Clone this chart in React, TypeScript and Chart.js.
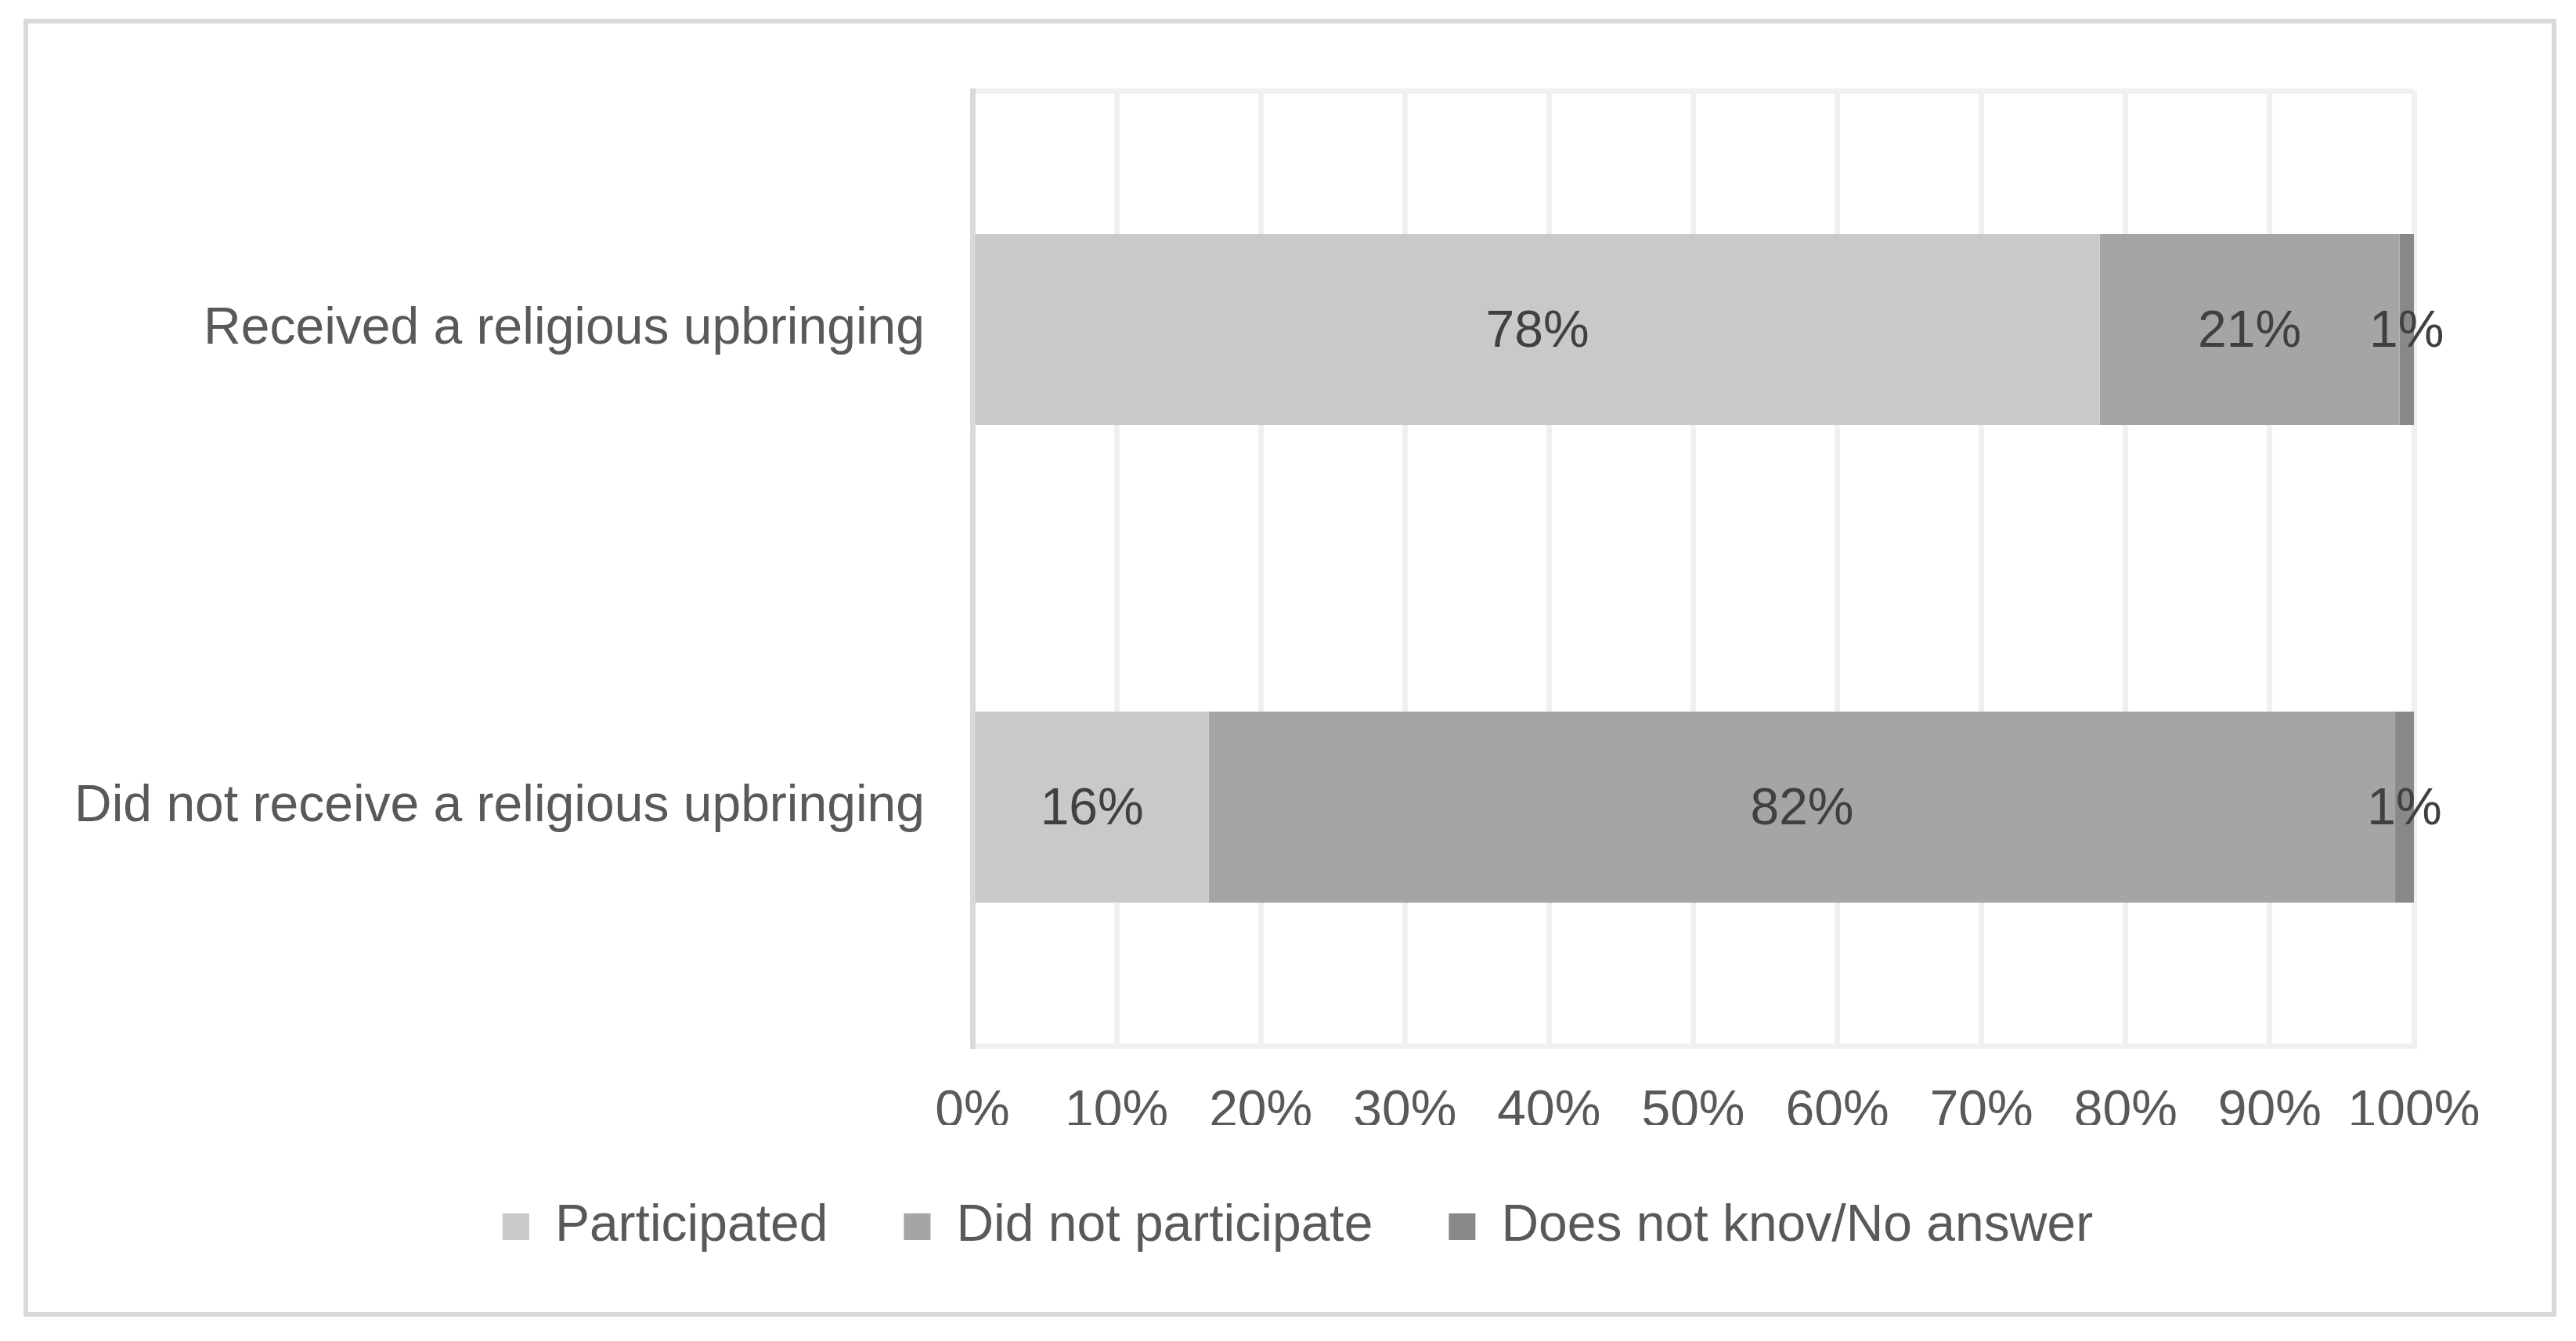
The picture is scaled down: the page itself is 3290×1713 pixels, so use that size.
import React, { useEffect, useRef } from 'react';
import { Chart, registerables } from 'chart.js';

Chart.register(...registerables);

const categories = ['Received a religious upbringing', 'Did not receive a religious upbringing'];
const seriesNames = ['Participated', 'Did not participate', 'Does not knov/No answer'];
const participated = [78.2, 16.4];
const didNotParticipate = [20.8, 82.3];
const doesNotKnow = [1.0, 1.3];
const seriesColors = ['#c9c9c9', '#a5a5a5', '#888888'];
const xMin = 0;
const xMax = 100;
const xStep = 10;

const FONT = '"Liberation Sans", Arial, Helvetica, sans-serif';
const CANVAS_W = 3223;
const CANVAS_H = 1646;

const segmentLabels = {
  id: 'segmentLabels',
  afterDatasetsDraw(chart: any) {
    const { ctx } = chart;
    ctx.save();
    ctx.font = `66px ${FONT}`;
    ctx.fillStyle = '#404040';
    ctx.textAlign = 'center';
    ctx.textBaseline = 'middle';
    chart.data.datasets.forEach((ds: any, di: number) => {
      const meta = chart.getDatasetMeta(di);
      meta.data.forEach((bar: any, i: number) => {
        const p = bar.getProps(['x', 'y', 'base'], true);
        ctx.fillText(Math.round(ds.data[i]) + '%', (p.x + p.base) / 2, p.y + 4);
      });
    });
    ctx.restore();
  },
};

export default function App() {
  const ref = useRef<HTMLCanvasElement | null>(null);

  useEffect(() => {
    if (!ref.current) return;
    const values = [participated, didNotParticipate, doesNotKnow];
    const chart = new Chart(ref.current, {
      type: 'bar',
      data: {
        labels: categories,
        datasets: seriesNames.map((name, i) => ({
          label: name,
          data: values[i],
          backgroundColor: seriesColors[i],
          borderWidth: 0,
          categoryPercentage: 1,
          barPercentage: 0.4,
        })),
      },
      options: {
        indexAxis: 'y',
        responsive: false,
        animation: false,
        devicePixelRatio: 1,
        layout: { padding: { top: 86, right: 0, bottom: 66, left: 20 } },
        plugins: {
          tooltip: { enabled: false },
          legend: {
            position: 'bottom',
            labels: {
              boxWidth: 34,
              boxHeight: 34,
              padding: 97,
              color: '#595959',
              font: { family: FONT, size: 66 },
            },
          },
        },
        scales: {
          x: {
            stacked: true,
            min: xMin,
            max: xMax,
            afterFit: (scale: any) => {
              scale.height = 101;
              scale.paddingLeft = 0;
              scale.paddingRight = 0;
            },
            ticks: {
              stepSize: xStep,
              color: '#595959',
              font: { family: FONT, size: 66 },
              padding: 45,
              maxRotation: 0,
              callback: (v: any) => v + '%',
            },
            grid: {
              color: (c: any) => (c.index === 0 ? '#d9d9d9' : '#f0f0f0'),
              lineWidth: 7,
              drawTicks: false,
            },
            border: { display: true, color: '#f0f0f0', width: 7 },
          },
          y: {
            stacked: true,
            afterFit: (scale: any) => {
              scale.width = 1186;
              scale.paddingTop = 0;
              scale.paddingBottom = 0;
            },
            ticks: {
              color: '#595959',
              font: { family: FONT, size: 66 },
              padding: 61,
            },
            grid: {
              color: (c: any) => (c.index === 0 ? '#f0f0f0' : 'rgba(0,0,0,0)'),
              lineWidth: 7,
              drawTicks: false,
            },
            border: { display: true, color: '#d9d9d9', width: 7 },
          },
          yRight: {
            type: 'category',
            position: 'right',
            afterFit: (scale: any) => {
              scale.width = 176;
              scale.paddingTop = 0;
              scale.paddingBottom = 0;
            },
            ticks: { display: false },
            grid: { display: false },
            border: { display: false },
          },
        },
      },
      plugins: [segmentLabels],
    } as any);
    return () => chart.destroy();
  }, []);

  return (
    <div
      style={{
        position: 'absolute',
        left: 30,
        top: 24,
        width: CANVAS_W + 12,
        height: CANVAS_H + 12,
        boxSizing: 'border-box',
        border: '6px solid #d9d9d9',
        background: '#ffffff',
      }}
    >
      <canvas ref={ref} width={CANVAS_W} height={CANVAS_H} style={{ display: 'block', width: CANVAS_W, height: CANVAS_H }} />
    </div>
  );
}
